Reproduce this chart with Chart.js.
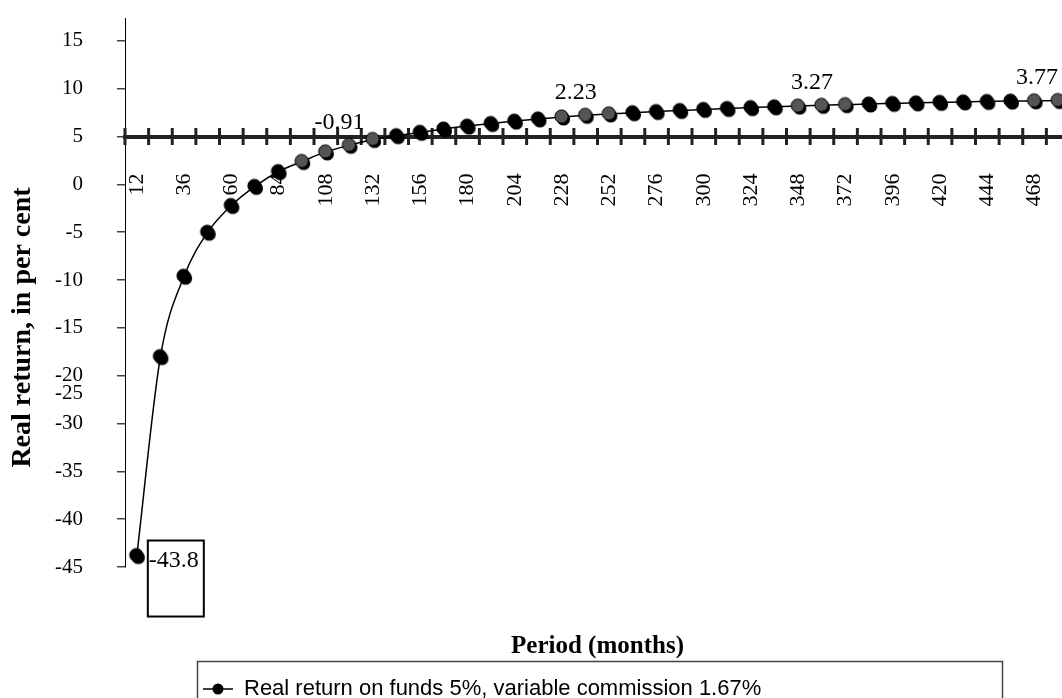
<!DOCTYPE html>
<html>
<head>
<meta charset="utf-8">
<script src="https://cdn.jsdelivr.net/npm/chart.js@4/dist/chart.umd.min.js"></script>
<style>
  html, body { margin: 0; padding: 0; overflow: hidden; background: #fff; }
  canvas { display: block; }
</style>
</head>
<body>
<canvas id="lineChart" width="1085" height="730"></canvas>
<script>
/* DATA */
const months = [12, 24, 36, 48, 60, 72, 84, 96, 108, 120,
                132, 144, 156, 168, 180, 192, 204, 216, 228, 240,
                252, 264, 276, 288, 300, 312, 324, 336, 348, 360,
                372, 384, 396, 408, 420, 432, 444, 456, 468, 480];
const returnPct = [-43.8, -23.0, -14.6, -10.0, -7.2, -5.2, -3.65, -2.6, -1.6, -0.91,
                   -0.3, 0.1, 0.45, 0.8, 1.1, 1.37, 1.62, 1.85, 2.05, 2.23,
                   2.37, 2.5, 2.62, 2.73, 2.84, 2.94, 3.03, 3.11, 3.19, 3.27,
                   3.34, 3.41, 3.47, 3.53, 3.58, 3.63, 3.67, 3.71, 3.74, 3.77];
const labelledMonths = [12, 120, 240, 360, 480];
const greyMonths = [96, 108, 120, 132, 228, 240, 252, 348, 360, 372, 468, 480];
const yTickValues = [-45, -40, -35, -30, -25, -20, -15, -10, -5, 0, 5, 10];
// the original picture's axis text is shifted against its ticks; kept as drawn
const yTickLabels = ['-45', '-40', '-35', '-30', ['', '-20', '-25'], '-15', '-10', '-5', '0', '5', '10', '15'];

const SERIF = 'Liberation Serif';

/* markers: a dot with a darker copy slightly offset behind it */
function makeDot(fill) {
    const c = document.createElement('canvas');
    c.width = 20; c.height = 20;
    const g = c.getContext('2d');
    g.fillStyle = '#000';
    g.beginPath(); g.arc(11.5, 12, 6.6, 0, Math.PI * 2); g.fill();
    g.fillStyle = fill; g.strokeStyle = '#000'; g.lineWidth = 1;
    g.beginPath(); g.arc(9.5, 9.5, 6.6, 0, Math.PI * 2); g.fill(); g.stroke();
    return c;
}
const blackDot = makeDot('#000');
const greyDot = makeDot('#555');

const legendMarker = (function () {
    const c = document.createElement('canvas');
    c.width = 30; c.height = 14;
    const g = c.getContext('2d');
    g.strokeStyle = '#000'; g.lineWidth = 1.5;
    g.beginPath(); g.moveTo(0, 7); g.lineTo(30, 7); g.stroke();
    g.fillStyle = '#000';
    g.beginPath(); g.arc(15, 7, 5.5, 0, Math.PI * 2); g.fill();
    return c;
})();

/* tick marks crossing the horizontal axis, one between each period */
const crossTicks = {
    id: 'crossTicks',
    beforeDatasetsDraw(chart) {
        const {ctx, chartArea} = chart;
        const y0 = chart.scales.y.getPixelForValue(0);
        const step = (chartArea.right - chartArea.left) / months.length;
        ctx.save();
        ctx.strokeStyle = '#222';
        ctx.lineWidth = 3;
        ctx.beginPath();
        for (let i = 0; i <= months.length; i++) {
            const px = chartArea.left + i * step;
            ctx.moveTo(px, y0 - 8.5);
            ctx.lineTo(px, y0 + 8.5);
        }
        ctx.stroke();
        ctx.restore();
    }
};

/* value labels over selected points */
const pointLabels = {
    id: 'pointLabels',
    afterDatasetsDraw(chart) {
        const {ctx, chartArea} = chart;
        const meta = chart.getDatasetMeta(0);
        ctx.save();
        ctx.font = '24px "' + SERIF + '"';
        ctx.fillStyle = '#000';
        ctx.textBaseline = 'middle';
        labelledMonths.forEach(m => {
            const i = months.indexOf(m);
            const pt = meta.data[i];
            const txt = String(returnPct[i]);
            if (i === 0) {
                // first value sits in a framed box next to its point
                ctx.strokeStyle = '#000';
                ctx.lineWidth = 2;
                ctx.strokeRect(pt.x + 11, pt.y - 15, 56, 76);
                ctx.textAlign = 'left';
                ctx.fillText(txt, pt.x + 12, pt.y + 5);
            } else {
                const w = ctx.measureText(txt).width;
                const cx = Math.min(pt.x - 10, chartArea.right - 12 - w / 2);
                ctx.textAlign = 'center';
                ctx.fillText(txt, cx, pt.y - 23);
            }
        });
        ctx.restore();
    }
};

/* legend sits in a wide framed box, left aligned */
const legendFrame = {
    id: 'legendFrame',
    afterLayout(chart) {
        const lg = chart.legend;
        const dx = 193 - lg.left;
        lg.left += dx;
        lg.right += dx;
    },
    afterDraw(chart) {
        const {ctx} = chart;
        const lg = chart.legend;
        ctx.save();
        ctx.strokeStyle = '#444';
        ctx.lineWidth = 1.5;
        ctx.strokeRect(197.5, lg.top - 6.5, 805, chart.height);
        ctx.restore();
    }
};

// keep the axes' label overhang from eating into the plot area
function noOverhang(s) {
    s.paddingTop = 0; s.paddingBottom = 0;
    s.paddingLeft = 0; s.paddingRight = 0;
}

const CHART = document.getElementById('lineChart');
let lineChart = new Chart(CHART, {
    type: 'line',
    data: {
        labels: months,
        datasets: [
            {
                label: 'Real return on funds 5%, variable commission 1.67%',
                data: returnPct,
                fill: false,
                borderColor: '#000',
                borderWidth: 1.5,
                cubicInterpolationMode: 'monotone',
                pointStyle: ctx => greyMonths.includes(months[ctx.dataIndex]) ? greyDot : blackDot,
                pointRadius: 7,
                backgroundColor: '#000'
            }
        ]
    },
    options: {
        responsive: false,
        animation: false,
        events: [],
        layout: { padding: { top: 18, right: 15, bottom: 20, left: 0 } },
        scales: {
            x: {
                type: 'category',
                position: { y: 0 },
                offset: true,
                afterFit: noOverhang,
                border: { color: '#222', width: 4 },
                grid: { drawOnChartArea: false, drawTicks: false },
                ticks: {
                    autoSkip: false,
                    minRotation: 90,
                    maxRotation: 90,
                    padding: 37,
                    color: '#000',
                    font: { family: SERIF, size: 22 },
                    callback: (v, i) => i % 2 === 0 ? months[i] : ''
                }
            },
            y: {
                min: -45,
                max: 12.4,
                afterFit: s => { s.width = 125; noOverhang(s); },
                afterBuildTicks: s => { s.ticks = yTickValues.map(v => ({ value: v })); },
                border: { color: '#000', width: 1 },
                grid: { drawOnChartArea: false, tickLength: 8, color: '#444', lineWidth: 1.5 },
                ticks: {
                    autoSkip: false,
                    padding: 34,
                    color: '#000',
                    font: { family: SERIF, size: 21, lineHeight: '18px' },
                    callback: v => yTickLabels[yTickValues.indexOf(v)]
                },
                title: {
                    display: true,
                    // trailing spaces push the centred title a little lower, as in the original
                    text: 'Real return, in per cent' + ' '.repeat(10),
                    color: '#000',
                    font: { family: SERIF, size: 28, weight: 'bold' },
                    padding: { top: 6, bottom: 4 }
                }
            }
        },
        plugins: {
            tooltip: { enabled: false },
            title: {
                display: true,
                position: 'bottom',
                fullSize: false,
                weight: 500,
                text: 'Period (months)',
                color: '#000',
                font: { family: SERIF, size: 25, weight: 'bold' },
                padding: { top: 65, bottom: 6 }
            },
            legend: {
                position: 'bottom',
                align: 'start',
                labels: {
                    usePointStyle: true,
                    pointStyleWidth: 30,
                    padding: 10,
                    color: '#000',
                    font: { family: 'Liberation Sans', size: 22 },
                    generateLabels(chart) {
                        const items = Chart.defaults.plugins.legend.labels.generateLabels(chart);
                        items.forEach(it => { it.pointStyle = legendMarker; });
                        return items;
                    }
                }
            }
        }
    },
    plugins: [crossTicks, pointLabels, legendFrame]
});
</script>
</body>
</html>
